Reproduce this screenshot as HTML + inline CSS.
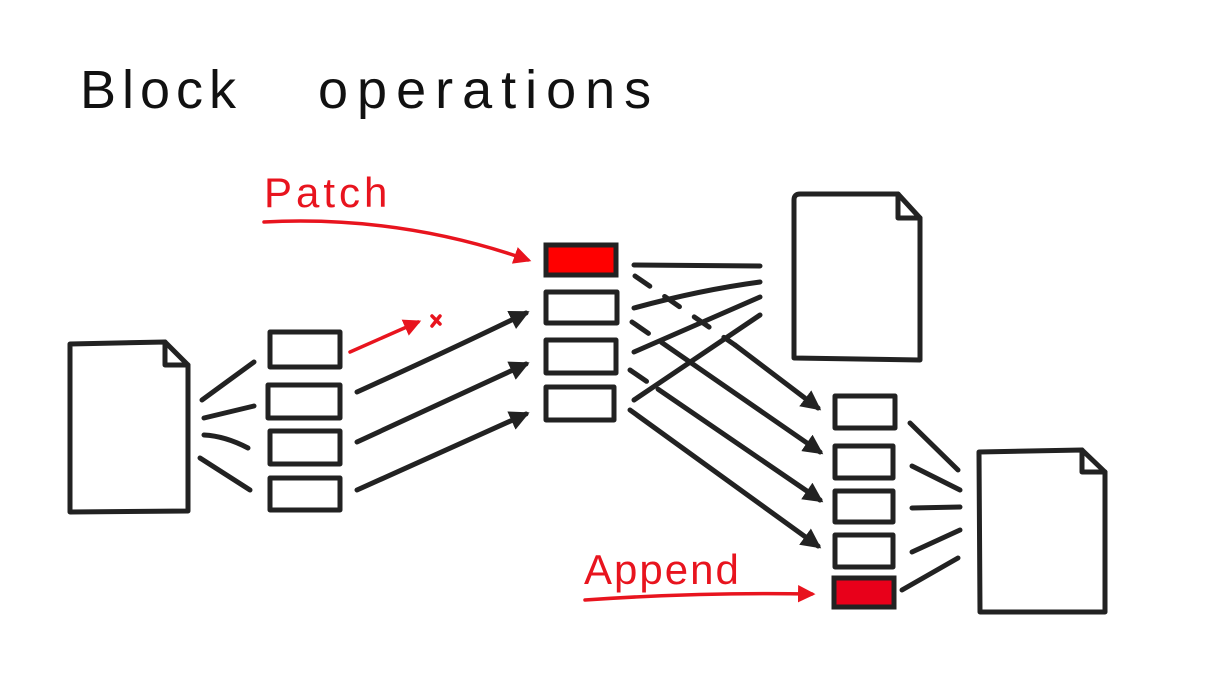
<!DOCTYPE html>
<html><head><style>
html,body{margin:0;padding:0;background:#fff;width:1224px;height:691px;overflow:hidden}
</style></head><body>
<svg width="1224" height="691" viewBox="0 0 1224 691" xmlns="http://www.w3.org/2000/svg">
<defs>
<marker id="ab" viewBox="0 0 10 10" refX="8" refY="5" markerWidth="4" markerHeight="4" orient="auto"><path d="M0,0 L10,5 L0,10 z" fill="#222"/></marker>
<marker id="ar" viewBox="0 0 10 10" refX="8" refY="5" markerWidth="5" markerHeight="5" orient="auto"><path d="M0,0 L10,5 L0,10 z" fill="#e8141e"/></marker>
</defs>
<text x="80" y="108" font-family="Liberation Sans, sans-serif" font-size="54" fill="#111" letter-spacing="6">Block</text>
<text x="318" y="108" font-family="Liberation Sans, sans-serif" font-size="54" fill="#111" letter-spacing="9">operations</text>
<g fill="none" stroke="#222" stroke-width="5" stroke-linecap="round" stroke-linejoin="round">
<path d="M70,344 L165,342 L188,365 L188,511 L70,512 Z"/><path d="M165,342 L165,365 L188,365"/>
<path d="M794,200 Q794,194 800,194 L898,194 L920,218 L920,360 L794,358 Z"/><path d="M898,194 L898,218 L920,218"/>
<path d="M979,452 L1082,450 L1105,472 L1105,612 L980,612 Z"/><path d="M1082,450 L1082,472 L1105,472"/>
<rect x="270" y="332" width="70" height="35"/><rect x="268" y="385" width="72" height="33"/><rect x="270" y="431" width="70" height="33"/><rect x="270" y="478" width="70" height="32"/>
<rect x="546" y="292" width="71" height="31"/><rect x="546" y="340" width="70" height="33"/><rect x="546" y="387" width="68" height="33"/>
<rect x="835" y="396" width="60" height="32"/><rect x="835" y="446" width="58" height="32"/><rect x="835" y="491" width="58" height="31"/><rect x="835" y="535" width="58" height="32"/>
<path d="M202,400 L254,362"/><path d="M204,418 L254,406"/><path d="M204,435 Q225,436 248,448"/><path d="M200,458 L250,490"/>
<path d="M634,265 L760,266"/><path d="M634,308 Q700,290 760,282"/><path d="M634,352 L760,297"/><path d="M634,400 L760,315"/>
<path d="M910,423 L958,470"/><path d="M912,466 L960,490"/><path d="M912,508 L960,507"/><path d="M912,552 L960,530"/><path d="M902,590 L958,558"/>
<path d="M357,392 Q450,350 526,313" marker-end="url(#ab)"/><path d="M357,442 L526,364" marker-end="url(#ab)"/><path d="M357,490 L526,414" marker-end="url(#ab)"/>
<path d="M635,276 L735,345" stroke-dasharray="18,18"/><path d="M735,345 L818,408" marker-end="url(#ab)"/>
<path d="M632,322 L820,452" stroke-dasharray="20,16,2000" marker-end="url(#ab)"/>
<path d="M630,370 L820,500" stroke-dasharray="20,14,2000" marker-end="url(#ab)"/>
<path d="M630,410 L818,546" marker-end="url(#ab)"/>
</g>
<rect x="546" y="245" width="70" height="30" fill="#f00" stroke="#222" stroke-width="5"/>
<rect x="834" y="578" width="60" height="29" fill="#e8001a" stroke="#222" stroke-width="5"/>
<g fill="none" stroke="#e8141e" stroke-width="3.5" stroke-linecap="round">
<path d="M350,352 L418,322" marker-end="url(#ar)"/>
<path d="M432,316 L440,324 M440,316 L432,326"/>
<path d="M264,222 Q400,215 528,260" marker-end="url(#ar)"/>
<path d="M585,600 Q700,592 812,594" marker-end="url(#ar)"/>
</g>
<text x="264" y="207" font-family="Liberation Sans, sans-serif" font-size="42" fill="#e8141e" letter-spacing="4">Patch</text>
<text x="584" y="584" font-family="Liberation Sans, sans-serif" font-size="42" fill="#e8141e" letter-spacing="2">Append</text>
</svg>
</body></html>
